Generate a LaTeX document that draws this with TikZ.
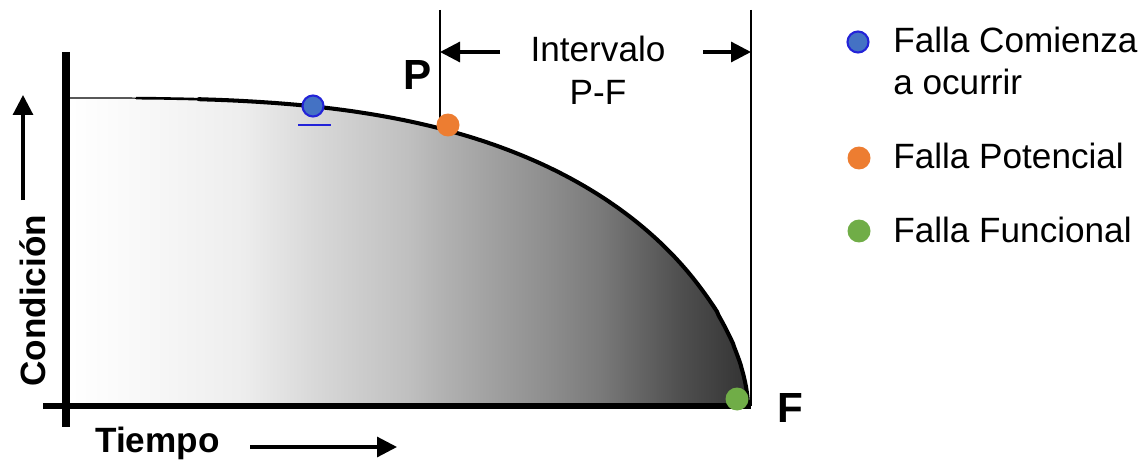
\documentclass[tikz,border=0pt]{standalone}
\usepackage{fontspec}
\setmainfont{Liberation Sans}
\usetikzlibrary{arrows.meta}
\definecolor{fallablue}{HTML}{4472C4}
\definecolor{fallaedge}{HTML}{2323D8}
\definecolor{fallaorange}{HTML}{ED7D31}
\definecolor{fallagreen}{HTML}{70AD47}
\pgfdeclarehorizontalshading{condshade}{100bp}{color(0bp)=(white);
  color(25bp)=(white); color(31bp)=(black!3); color(37.8bp)=(black!7);
  color(42.9bp)=(black!15); color(50bp)=(black!25); color(52.3bp)=(black!30);
  color(55.5bp)=(black!36); color(60bp)=(black!44); color(64bp)=(black!52);
  color(70bp)=(black!69); color(75bp)=(black!80); color(100bp)=(black!80)}

\begin{document}
\begin{tikzpicture}[
  x=0.02cm, y=0.02cm,
  declare function={tt(\u)=1-(1-\u)*(1-\u);
                    cx(\u)=70+678*tt(\u);
                    cy(\u)=58+308*pow(max(1-tt(\u)^3,0.00001),0.588);},
  txt/.style={font=\fontsize{20}{24}\selectfont, inner sep=0pt},
  boldtxt/.style={font=\fontsize{20}{24}\selectfont\bfseries, inner sep=0pt},
  bigbold/.style={font=\fontsize{24}{28}\selectfont\bfseries, inner sep=0pt},
  dot/.style={circle, minimum size=0.46cm, inner sep=0pt},
  startdot/.style={dot, fill=fallablue, draw=fallaedge, line width=1.2pt,
                   minimum size=0.42cm},
  arr/.style={-{Triangle[length=0.4cm, width=0.4cm]}, line width=1.8pt},
  axisline/.style={line width=3pt},
  failcurve/.style={line width=2.3pt, line cap=round},
  mark line/.style={line width=1.1pt},
]
  \useasboundingbox (0,0) rectangle (1143,464);

  % area under the condition curve
  \shade[shading=condshade]
    (70,58) -- plot[domain=0:1, samples=140] ({cx(\x)}, {cy(\x)}) -- (748,58) -- cycle;
  \draw[line width=0.7pt] plot[domain=0:0.05, samples=8] ({cx(\x)}, {cy(\x)});
  \draw[line width=1.5pt] plot[domain=0.05:0.1, samples=8] ({cx(\x)}, {cy(\x)});
  \draw[failcurve] plot[domain=0.1:1, samples=140] ({cx(\x)}, {cy(\x)}) -- (748,58);

  % axes
  \coordinate (ytop) at (66,412);
  \coordinate (ybot) at (66,37);
  \coordinate (xleft) at (43,58);
  \coordinate (xright) at (751,58);
  \draw[axisline, line width=4pt] (ytop) -- (ybot);
  \draw[axisline] (xleft) -- (xright);

  % P-F interval
  \coordinate (ptop) at (440,454);
  \coordinate (ftop) at (751,454);
  \node[dot] (pot) at (448,339) {};
  \draw[mark line] (ptop) -- (ptop |- pot);
  \draw[mark line] (ftop) -- (ftop |- xright);
  \coordinate (lstart) at (500,412);
  \coordinate (rstart) at (703,412);
  \draw[arr] (lstart) -- (ptop |- lstart);
  \draw[arr] (rstart) -- (ftop |- rstart);
  \node[txt, anchor=base] (intv) at (598,402) {Intervalo};
  \node[txt, anchor=base] (pf) at (598,359) {P-F};
  \node[bigbold, anchor=base] (plabel) at (418,375) {P};
  \node[bigbold, anchor=base] (flabel) at (790,42) {F};

  % points on the curve
  \node[startdot] (start) at (313,358) {};
  \coordinate (ul1) at (298,339);
  \coordinate (ul2) at (331,339);
  \draw[fallaedge, line width=1.3pt] (ul1) -- (ul2);
  \node[dot, fill=fallaorange] (potdot) at (448,339) {};
  \node[dot, fill=fallagreen] (fundot) at (737,65) {};

  % axis labels
  \node[boldtxt, anchor=base west] (tiempo) at (95,12) {Tiempo};
  \coordinate (tstart) at (250,17);
  \coordinate (tend) at (397,17);
  \draw[arr] (tstart) -- (tend);
  \node[boldtxt, anchor=base west, rotate=90] (cond) at (45,77) {Condición};
  \coordinate (cstart) at (23,264);
  \coordinate (cend) at (23,369);
  \draw[arr] (cstart) -- (cend);

  % legend
  \node[startdot] (legstart) at (858,422) {};
  \node[dot, fill=fallaorange] (legpot) at (859,306) {};
  \node[dot, fill=fallagreen] (legfun) at (859,233) {};
  \node[txt, anchor=base west] (legt1) at (893,411) {Falla Comienza};
  \node[txt, anchor=base west] (legt2) at (893,369) {a ocurrir};
  \node[txt, anchor=base west] (legt3) at (893,296) {Falla Potencial};
  \node[txt, anchor=base west] (legt4) at (893,222) {Falla Funcional};
\end{tikzpicture}
\end{document}
